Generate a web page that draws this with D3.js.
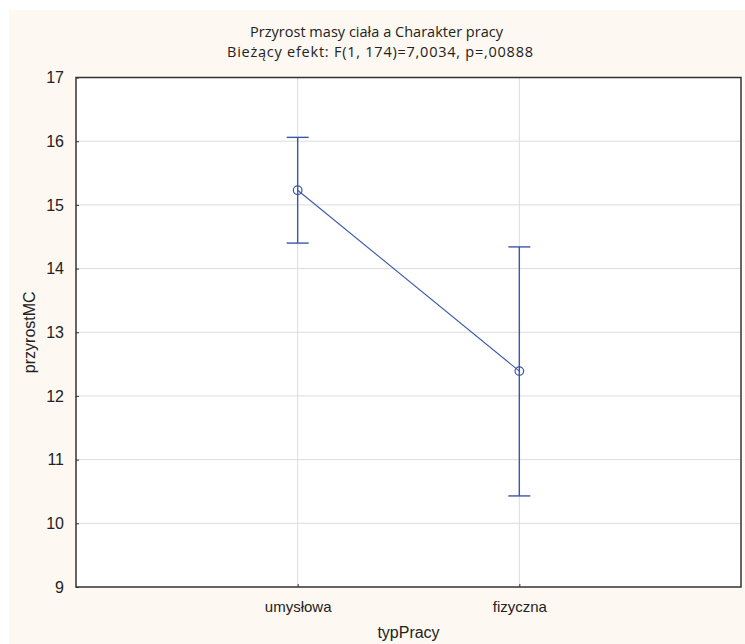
<!DOCTYPE html>
<html>
<head>
<meta charset="utf-8">
<script src="https://cdn.jsdelivr.net/npm/d3@7"></script>
<style>
  body { margin: 0; background: #fff; }
  svg { display: block; }
  .tick text { font-family: "Liberation Sans", Arial, sans-serif; fill: #222; }
</style>
</head>
<body>
<svg id="chart"></svg>
<script>
// chart values
var categories = ['umysłowa', 'fizyczna'];
var means = [15.23, 12.39];
var upper = [16.06, 14.34];
var lower = [14.40, 10.43];
var yTicks = [9, 10, 11, 12, 13, 14, 15, 16, 17];
var titleLines = ['Przyrost masy ciała a Charakter pracy', 'Bieżący efekt: F(1, 174)=7,0034, p=,00888'];
var titleWidths = [253, 306];

var width = 745;
var height = 644;
var margin = {top: 77.5, right: 4, bottom: 57, left: 76};
var blue = '#3b57a7';

var svg = d3.select('#chart')
    .attr('width', width)
    .attr('height', height);

// cream backing
svg.append('rect')
    .attr('x', 9).attr('y', 10)
    .attr('width', width - 9).attr('height', height - 10)
    .attr('fill', '#fdf8f1');

var x = d3.scaleLinear()
    .domain([0, categories.length + 1])
    .range([margin.left, width - margin.right]);

var y = d3.scaleLinear()
    .domain([9, 17])
    .range([height - margin.bottom, margin.top]);

var plot = svg.append('g');

plot.append('rect')
    .attr('x', x(0)).attr('y', y(17))
    .attr('width', x(3) - x(0)).attr('height', y(9) - y(17))
    .attr('fill', '#fff');

// grid lines
plot.selectAll('line.hgrid')
    .data(yTicks.slice(1, -1))
    .enter()
    .append('line')
    .attr('class', 'hgrid')
    .attr('x1', x(0)).attr('x2', x(3))
    .attr('y1', function(d) { return y(d); })
    .attr('y2', function(d) { return y(d); })
    .attr('stroke', '#dcdcdc');

plot.selectAll('line.vgrid')
    .data(categories)
    .enter()
    .append('line')
    .attr('class', 'vgrid')
    .attr('x1', function(d, i) { return x(i + 1); })
    .attr('x2', function(d, i) { return x(i + 1); })
    .attr('y1', y(17)).attr('y2', y(9))
    .attr('stroke', '#dcdcdc');

// axes
var yAxis = d3.axisLeft(y)
    .tickValues(yTicks)
    .tickSize(-3)
    .tickPadding(12);

var yg = svg.append('g')
    .attr('transform', 'translate(' + x(0) + ',0)')
    .call(yAxis);
yg.select('.domain').remove();
yg.selectAll('.tick line').attr('stroke', '#333');
yg.selectAll('.tick text').style('font-size', '16px');

var xAxis = d3.axisBottom(x)
    .tickValues([1, 2])
    .tickFormat(function(d) { return categories[d - 1]; })
    .tickSize(-3)
    .tickPadding(14);

var xg = svg.append('g')
    .attr('transform', 'translate(0,' + y(9) + ')')
    .call(xAxis);
xg.select('.domain').remove();
xg.selectAll('.tick line').attr('stroke', '#333');
xg.selectAll('.tick text').style('font-size', '15px');

// frame
svg.append('rect')
    .attr('x', x(0)).attr('y', y(17))
    .attr('width', x(3) - x(0)).attr('height', y(9) - y(17))
    .attr('fill', 'none')
    .attr('stroke', '#333')
    .attr('stroke-width', 1.5);

// error bars
var bars = svg.append('g');
categories.forEach(function(c, i) {
    var cx = x(i + 1);
    bars.append('line')
        .attr('x1', cx).attr('x2', cx)
        .attr('y1', y(upper[i])).attr('y2', y(lower[i]))
        .attr('stroke', blue).attr('stroke-width', 1.4);
    [upper[i], lower[i]].forEach(function(v) {
        bars.append('line')
            .attr('x1', cx - 11).attr('x2', cx + 11)
            .attr('y1', y(v)).attr('y2', y(v))
            .attr('stroke', blue).attr('stroke-width', 1.4);
    });
});

var line = d3.line()
    .x(function(d, i) { return x(i + 1); })
    .y(function(d) { return y(d); });

svg.append('path')
    .attr('d', line(means))
    .attr('fill', 'none')
    .attr('stroke', blue)
    .attr('stroke-width', 1.1);

svg.selectAll('circle.pt')
    .data(means)
    .enter()
    .append('circle')
    .attr('class', 'pt')
    .attr('cx', function(d, i) { return x(i + 1); })
    .attr('cy', function(d) { return y(d); })
    .attr('r', 4.3)
    .attr('fill', 'none')
    .attr('stroke', blue)
    .attr('stroke-width', 1.2);

// titles
svg.selectAll('text.title')
    .data(titleLines)
    .enter()
    .append('text')
    .attr('class', 'title')
    .attr('x', function(d, i) { return i === 0 ? 376.5 : 380; })
    .attr('y', function(d, i) { return 36.5 + i * 20.5; })
    .attr('text-anchor', 'middle')
    .attr('textLength', function(d, i) { return titleWidths[i]; })
    .attr('lengthAdjust', 'spacing')
    .style('font-family', '"Open Sans", "Noto Sans", sans-serif')
    .style('font-size', '14.5px')
    .attr('fill', '#222')
    .text(function(d) { return d; });

svg.append('text')
    .attr('x', (x(0) + x(3)) / 2)
    .attr('y', 638)
    .attr('text-anchor', 'middle')
    .style('font-family', '"Liberation Sans", Arial, sans-serif')
    .style('font-size', '16px')
    .attr('fill', '#222')
    .text('typPracy');

svg.append('text')
    .attr('transform', 'translate(35,' + (y(13)) + ') rotate(-90)')
    .attr('text-anchor', 'middle')
    .style('font-family', '"Liberation Sans", Arial, sans-serif')
    .style('font-size', '16px')
    .attr('fill', '#222')
    .text('przyrostMC');
</script>
</body>
</html>
